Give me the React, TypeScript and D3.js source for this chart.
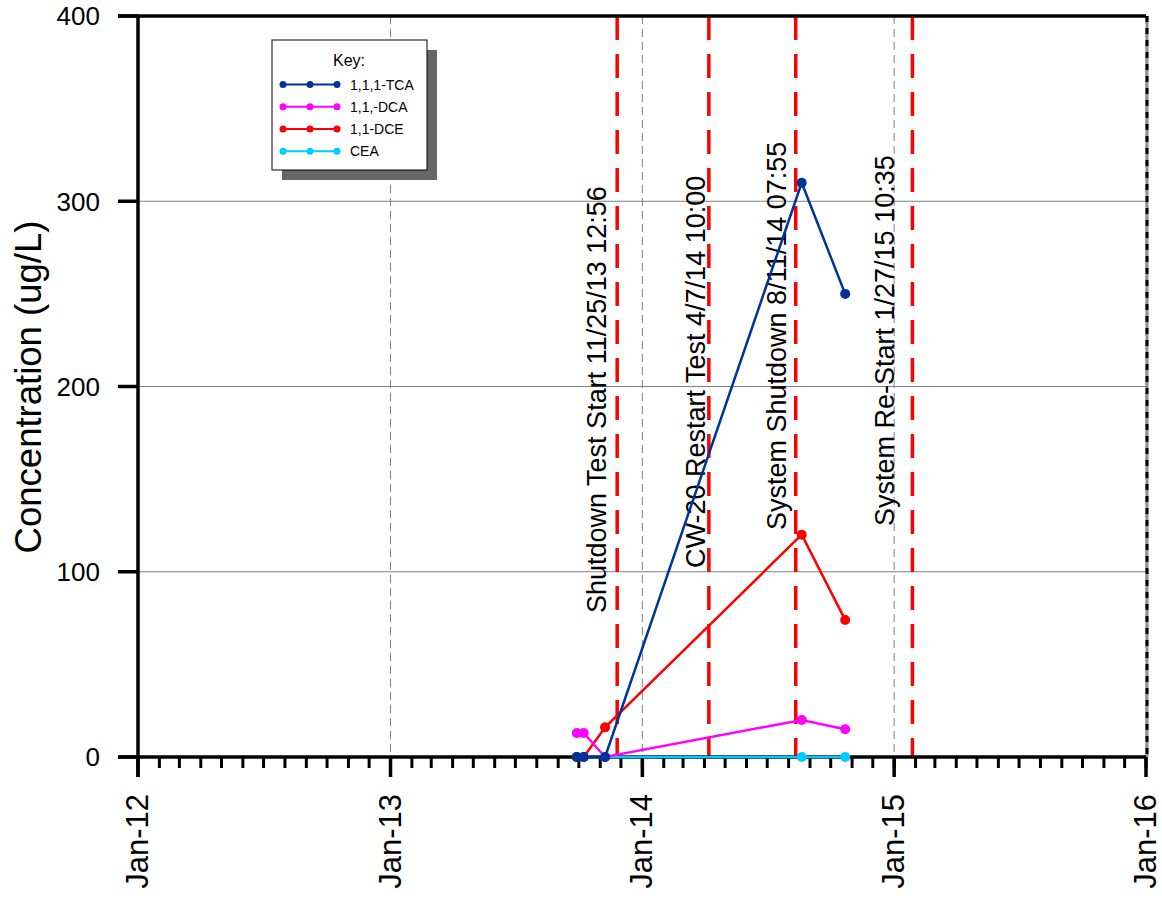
import React from "react";
import * as d3 from "d3";

// ---- Data ----
const sampleDates = ["2013-09-28", "2013-10-08", "2013-11-08", "2014-08-20", "2014-10-22"];
const seriesNames = ["1,1,1-TCA", "1,1,-DCA", "1,1-DCE", "CEA"];
const tcaValues = [0, 0, 0, 310, 250];
const dcaValues = [13, 13, 0, 20, 15];
const dceValues = [0, 0, 16, 120, 74];
const ceaValues = [0, 0, 0, 0, 0];
const seriesColors = ["#003399", "#FF00FF", "#FF0000", "#00CCFF"];

const eventDates = ["2013-11-25 12:56", "2014-04-07 10:00", "2014-08-11 07:55", "2015-01-27 10:35"];
const eventLabels = [
  "Shutdown Test Start 11/25/13 12:56",
  "CW-20 Restart Test 4/7/14 10:00",
  "System Shutdown 8/11/14 07:55",
  "System Re-Start 1/27/15 10:35",
];
// label layout: baseline offset from line (px), bottom start y (px)
const eventLabelDx = [-11, -4, -10, -18];
const eventLabelY = [613, 568, 530, 526];

const yTicks = [0, 100, 200, 300, 400];
const xTickDates = ["2012-01-01", "2013-01-01", "2014-01-01", "2015-01-01", "2016-01-01"];
const xTickLabels = ["Jan-12", "Jan-13", "Jan-14", "Jan-15", "Jan-16"];

const FONT = "'Liberation Sans', Arial, Helvetica, sans-serif";

export default function App() {
  const parseD = d3.timeParse("%Y-%m-%d");
  const parseDT = d3.timeParse("%Y-%m-%d %H:%M");
  const left = 138, right = 1146, top = 16, bottom = 757;
  const x = d3.scaleTime().domain([parseD("2012-01-01")!, parseD("2016-01-01")!]).range([left, right]);
  const y = d3.scaleLinear().domain([0, 400]).range([bottom, top]);

  const dates = sampleDates.map((d) => parseD(d)!);
  const allSeries = [tcaValues, dcaValues, dceValues, ceaValues];
  const line = d3
    .line<[Date, number]>()
    .x((d) => x(d[0]))
    .y((d) => y(d[1]));

  const minorTicks = d3.timeMonth.range(parseD("2012-01-01")!, parseD("2016-01-02")!);
  const drawOrder = [3, 2, 1, 0];

  const legendRows = [84.5, 106.8, 129, 151.3];

  return (
    <svg width={1162} height={900} style={{ position: "absolute", left: 0, top: 0, background: "#fff" }}>
      {/* horizontal gridlines */}
      {yTicks
        .filter((t) => t > 0 && t < 400)
        .map((t) => (
          <line key={"hg" + t} x1={left} x2={right} y1={y(t)} y2={y(t)} stroke="#808080" strokeWidth={1} />
        ))}
      {/* vertical gridlines */}
      {xTickDates.slice(1).map((d) => (
        <line
          key={"vg" + d}
          x1={x(parseD(d)!)}
          x2={x(parseD(d)!)}
          y1={top}
          y2={bottom}
          stroke="#808080"
          strokeWidth={1}
          strokeDasharray="8,5"
        />
      ))}
      {/* right border */}
      <line x1={right + 1} x2={right + 1} y1={top} y2={bottom} stroke="#909090" strokeWidth={3} />
      <line x1={right + 1} x2={right + 1} y1={top} y2={bottom} stroke="#000" strokeWidth={3} strokeDasharray="6,6" />

      {/* event lines */}
      {eventDates.map((d, i) => {
        const ex = x(parseDT(d)!);
        return (
          <line
            key={"ev" + i}
            x1={ex}
            x2={ex}
            y1={top}
            y2={bottom}
            stroke="#FF0000"
            strokeWidth={3.5}
            strokeDasharray="24,14"
          />
        );
      })}
      {eventLabels.map((t, i) => {
        const ex = x(parseDT(eventDates[i])!) + eventLabelDx[i];
        const ey = eventLabelY[i];
        return (
          <text
            key={"el" + i}
            transform={`translate(${ex},${ey}) rotate(-90)`}
            fontFamily={FONT}
            fontSize={27}
            fill="#000"
          >
            {t}
          </text>
        );
      })}

      {/* axes */}
      <line x1={118} x2={right} y1={top} y2={top} stroke="#000" strokeWidth={3.5} />
      <line x1={118} x2={right} y1={bottom} y2={bottom} stroke="#000" strokeWidth={3.5} />
      <line x1={left} x2={left} y1={top} y2={777} stroke="#000" strokeWidth={3.5} />
      {yTicks.map((t) => (
        <g key={"yt" + t}>
          <line x1={118} x2={left} y1={y(t)} y2={y(t)} stroke="#000" strokeWidth={3.5} />
          <text
            x={100}
            y={y(t)}
            dy="0.36em"
            textAnchor="end"
            fontFamily={FONT}
            fontSize={26}
            fill="#000"
          >
            {t}
          </text>
        </g>
      ))}
      {minorTicks.map((m, i) => (
        <line key={"mt" + i} x1={x(m)} x2={x(m)} y1={bottom} y2={768} stroke="#000" strokeWidth={3} />
      ))}
      {xTickDates.map((d, i) => {
        const tx = x(parseD(d)!);
        return (
          <g key={"xt" + d}>
            <line x1={tx} x2={tx} y1={bottom} y2={777} stroke="#000" strokeWidth={3.5} />
            <text
              transform={`translate(${tx + 10},${794}) rotate(-90)`}
              textAnchor="end"
              fontFamily={FONT}
              fontSize={31}
              fill="#000"
            >
              {xTickLabels[i]}
            </text>
          </g>
        );
      })}

      {/* y axis title */}
      <text
        transform={`translate(41,387) rotate(-90)`}
        textAnchor="middle"
        fontFamily={FONT}
        fontSize={36.5}
        fill="#000"
      >
        Concentration (ug/L)
      </text>

      {/* data */}
      {drawOrder.map((si) => {
        const pts: [Date, number][] = dates.map((d, j) => [d, allSeries[si][j]]);
        return (
          <g key={"s" + si}>
            <path d={line(pts) || ""} fill="none" stroke={seriesColors[si]} strokeWidth={2.5} />
            {pts.map((p, j) => (
              <circle key={j} cx={x(p[0])} cy={y(p[1])} r={5} fill={seriesColors[si]} />
            ))}
          </g>
        );
      })}

      {/* legend */}
      <rect x={282} y={50} width={155} height={130} fill="#666666" />
      <rect x={272} y={40} width={155} height={130} fill="#fff" stroke="#000" strokeWidth={1} />
      <text x={349} y={66} textAnchor="middle" fontFamily={FONT} fontSize={16} fill="#000">
        Key:
      </text>
      {seriesNames.map((n, i) => (
        <g key={"lg" + i}>
          <line x1={283} x2={337} y1={legendRows[i]} y2={legendRows[i]} stroke={seriesColors[i]} strokeWidth={2} />
          {[283, 310, 337].map((cx) => (
            <circle key={cx} cx={cx} cy={legendRows[i]} r={3.5} fill={seriesColors[i]} />
          ))}
          <text x={350} y={legendRows[i] + 5} fontFamily={FONT} fontSize={14} fill="#000">
            {n}
          </text>
        </g>
      ))}
    </svg>
  );
}
